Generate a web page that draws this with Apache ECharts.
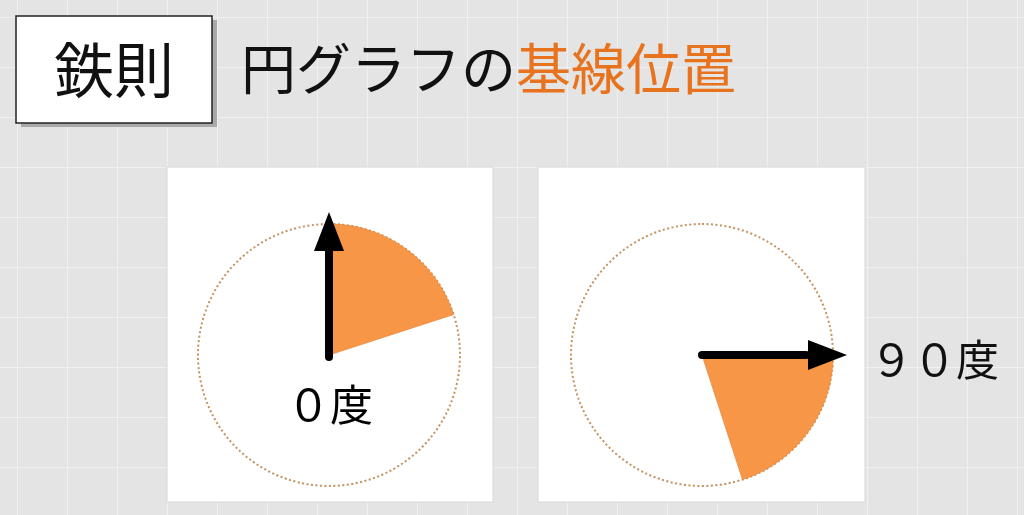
<!DOCTYPE html>
<html>
<head>
<meta charset="utf-8">
<script src="https://cdn.jsdelivr.net/npm/echarts@6/dist/echarts.min.js"></script>
<style>
html,body{margin:0;padding:0;background:#e4e4e4;}
#c{width:1024px;height:515px;}
</style>
</head>
<body>
<div id="c"></div>
<script>
// ---- data ----
const categories = ['扇形', '残り'];
const valuesTop = [20, 80];     // pie starting at 0 degrees (12 o'clock)
const valuesRight = [20, 80];   // pie starting at 90 degrees (3 o'clock)
const startAngles = [90, 0];    // ECharts angle convention
const angleLabels = ['０度', '９０度'];
const badgeText = '鉄則';
const titlePlain = '円グラフの';
const titleAccent = '基線位置';

// ---- layout ----
const FONT = '"Noto Sans CJK JP", "Noto Sans", sans-serif';
const ORANGE = '#f79646';
const centers = [[329, 355], [702, 355]];
const R = 131;
const panels = [[167, 167, 326, 335], [538, 167, 327, 335]];

const chart = echarts.init(document.getElementById('c'), null, {renderer: 'canvas'});

const graphics = [];
// background grid
for (let x = 17; x < 1024; x += 50) {
  graphics.push({type: 'line', z: -5, silent: true,
    shape: {x1: x + 0.5, y1: 0, x2: x + 0.5, y2: 515},
    style: {stroke: '#f0f0f0', lineWidth: 1}});
}
for (let y = 17; y < 515; y += 50) {
  graphics.push({type: 'line', z: -5, silent: true,
    shape: {x1: 0, y1: y + 0.5, x2: 1024, y2: y + 0.5},
    style: {stroke: '#f0f0f0', lineWidth: 1}});
}
// panels
panels.forEach(p => {
  graphics.push({type: 'rect', z: -1, silent: true,
    shape: {x: p[0], y: p[1], width: p[2], height: p[3]},
    style: {fill: '#ffffff', stroke: '#d8d8d8', lineWidth: 1}});
});
// badge shadow + box
graphics.push({type: 'rect', z: 0, silent: true,
  shape: {x: 21, y: 20, width: 196, height: 107},
  style: {fill: '#a9a9a9'}});
graphics.push({type: 'rect', z: 1, silent: true,
  shape: {x: 16, y: 16, width: 196, height: 107},
  style: {fill: '#ffffff', stroke: '#222', lineWidth: 1.5}});
graphics.push({type: 'text', z: 2, silent: true,
  style: {x: 114, y: 70, text: badgeText, fill: '#111', font: '60px ' + FONT,
    textAlign: 'center', textVerticalAlign: 'middle'}});

// arrows
const SHAFT = 8, HEAD_LEN = 39, HEAD_HALF = 15, TIP = 143;
// arrow 1: up
(function () {
  const [cx, cy] = centers[0];
  graphics.push({type: 'line', z: 20, silent: true,
    shape: {x1: cx, y1: cy + 2, x2: cx, y2: cy - TIP + HEAD_LEN},
    style: {stroke: '#000', lineWidth: SHAFT, lineCap: 'round'}});
  graphics.push({type: 'polygon', z: 20, silent: true,
    shape: {points: [[cx, cy - TIP], [cx - HEAD_HALF, cy - TIP + HEAD_LEN], [cx + HEAD_HALF, cy - TIP + HEAD_LEN]]},
    style: {fill: '#000'}});
  graphics.push({type: 'text', z: 20, silent: true,
    style: {x: cx + 1, y: cy + 50, text: angleLabels[0], fill: '#000', font: '43px ' + FONT,
      textAlign: 'center', textVerticalAlign: 'middle'}});
})();
// arrow 2: right
(function () {
  const [cx, cy] = centers[1];
  graphics.push({type: 'line', z: 20, silent: true,
    shape: {x1: cx, y1: cy, x2: cx + TIP - HEAD_LEN, y2: cy},
    style: {stroke: '#000', lineWidth: SHAFT, lineCap: 'round'}});
  graphics.push({type: 'polygon', z: 20, silent: true,
    shape: {points: [[cx + TIP + 2, cy], [cx + TIP + 2 - HEAD_LEN, cy - HEAD_HALF], [cx + TIP + 2 - HEAD_LEN, cy + HEAD_HALF]]},
    style: {fill: '#000'}});
  graphics.push({type: 'text', z: 20, silent: true,
    style: {x: cx + 168, y: cy + 5, text: angleLabels[1], fill: '#111', font: '43px ' + FONT,
      textAlign: 'left', textVerticalAlign: 'middle', letterSpacing: 8}});
})();

function outlineSeries(center) {
  return {
    type: 'pie', silent: true, center: center, radius: [0, R], z: 1,
    label: {show: false}, labelLine: {show: false},
    data: [{value: 1, name: 'outline'}],
    itemStyle: {color: 'rgba(0,0,0,0)', borderColor: '#c4925e', borderWidth: 2, borderType: [2, 2.5]}
  };
}
function sliceSeries(center, startAngle, values) {
  return {
    type: 'pie', silent: true, center: center, radius: [0, R], z: 3,
    startAngle: startAngle, clockwise: true, avoidLabelOverlap: false,
    label: {show: false}, labelLine: {show: false},
    data: categories.map((c, i) => ({
      name: c, value: values[i],
      itemStyle: i === 0
        ? {color: ORANGE, borderColor: '#e8893c', borderWidth: 0.8}
        : {color: 'rgba(0,0,0,0)', borderWidth: 0}
    }))
  };
}

chart.setOption({
  animation: false,
  backgroundColor: '#e4e4e4',
  title: [{
    text: titlePlain + '{o|' + titleAccent + '}',
    left: 241, top: 41, padding: 0,
    textStyle: {
      fontFamily: FONT, fontSize: 55, fontWeight: 'normal', color: '#111',
      rich: {o: {fontFamily: FONT, fontSize: 55, color: '#e8731f'}}
    }
  }],
  graphic: {elements: graphics},
  series: [
    outlineSeries(centers[0]),
    sliceSeries(centers[0], startAngles[0], valuesTop),
    outlineSeries(centers[1]),
    sliceSeries(centers[1], startAngles[1], valuesRight)
  ]
});
</script>
</body>
</html>
